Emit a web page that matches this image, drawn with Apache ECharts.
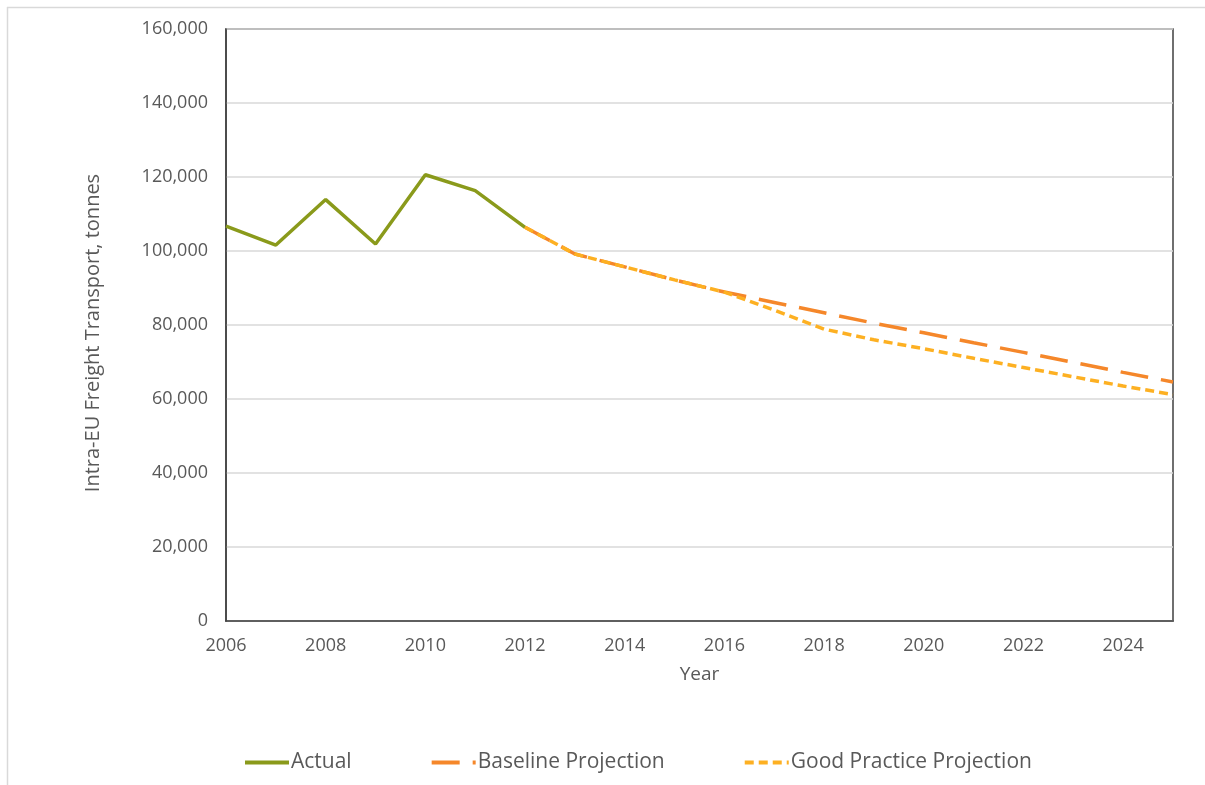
<!DOCTYPE html>
<html>
<head>
<meta charset="utf-8">
<script src="https://cdn.jsdelivr.net/npm/echarts@6/dist/echarts.min.js"></script>
<style>
  html, body { margin: 0; padding: 0; background: #fff; }
  #chart { width: 1205px; height: 785px; }
</style>
</head>
<body>
<div id="chart"></div>
<script>
// Intra-EU freight transport, tonnes per year
const actualYears = [2006, 2007, 2008, 2009, 2010, 2011, 2012];
const actualValues = [106700, 101600, 113900, 101900, 120600, 116300, 106400];

const projYears = [2012, 2013, 2014, 2015, 2016, 2017, 2018, 2019, 2020, 2021, 2022, 2023, 2024, 2025];
const baselineValues = [106400, 99200, 95700, 92200, 88900, 86100, 83300, 80500, 77900, 75200, 72600, 69900, 67200, 64600];
const goodPracticeValues = [106400, 99200, 95700, 92200, 88900, 84000, 78900, 76000, 73600, 71000, 68500, 66000, 63500, 61200];

const seriesNames = ['Actual', 'Baseline Projection', 'Good Practice Projection'];
const xAxisTitle = 'Year';
const yAxisTitle = 'Intra-EU Freight Transport, tonnes';

const pairs = (xs, ys) => xs.map((x, i) => [x, ys[i]]);

const FONT = '"Open Sans", "Liberation Sans", Arial, sans-serif';
const TEXT = '#595959';

const chart = echarts.init(document.getElementById('chart'), null, { renderer: 'canvas' });
chart.setOption({
  animation: false,
  textStyle: { fontFamily: FONT },
  graphic: [
    { type: 'line', shape: { x1: 7, y1: 7.5, x2: 1205, y2: 7.5 }, style: { stroke: '#d9d9d9', lineWidth: 1.5 } },
    { type: 'line', shape: { x1: 7.5, y1: 7, x2: 7.5, y2: 785 }, style: { stroke: '#d9d9d9', lineWidth: 1.5 } }
  ],
  grid: {
    left: 226, right: 32, top: 29, bottom: 164,
    show: true, borderColor: '#404040', borderWidth: 1.5, backgroundColor: 'transparent'
  },
  legend: {
    bottom: 12, left: 243, padding: 0,
    itemGap: 78, itemWidth: 44, itemHeight: 12,
    itemStyle: { opacity: 0 },
    lineStyle: { width: 4 },
    textStyle: { color: TEXT, fontSize: 21, fontFamily: FONT, padding: [0, 0, 0, -3] },
    data: seriesNames
  },
  xAxis: {
    type: 'value', min: 2006, max: 2025, interval: 2,
    name: xAxisTitle, nameLocation: 'middle', nameGap: 44,
    nameTextStyle: { color: TEXT, fontSize: 19, fontFamily: FONT },
    axisLine: { show: true, lineStyle: { color: '#404040', width: 1.5 } },
    axisTick: { show: false },
    splitLine: { show: false },
    axisLabel: {
      color: TEXT, fontSize: 18, margin: 16, fontFamily: FONT, showMaxLabel: false,
      formatter: v => (v % 2 === 0 ? String(v) : '')
    }
  },
  yAxis: {
    type: 'value', min: 0, max: 160000, interval: 20000,
    name: yAxisTitle, nameLocation: 'middle', nameGap: 123,
    nameTextStyle: { color: TEXT, fontSize: 20, fontFamily: FONT, padding: [0, 16, 0, 0] },
    axisLine: { show: true, lineStyle: { color: '#404040', width: 1.5 } },
    axisTick: { show: false },
    splitLine: { show: true, lineStyle: { color: '#d9d9d9', width: 1.5 } },
    axisLabel: {
      color: TEXT, fontSize: 18, margin: 18, fontFamily: FONT,
      formatter: v => v.toLocaleString('en-US')
    }
  },
  series: [
    {
      name: seriesNames[0], type: 'line', data: pairs(actualYears, actualValues),
      symbol: 'none', z: 3,
      lineStyle: { color: '#8A9A1B', width: 3.5 }, itemStyle: { color: '#8A9A1B' }
    },
    {
      name: seriesNames[1], type: 'line', data: pairs(projYears, baselineValues),
      symbol: 'none', z: 4,
      lineStyle: { color: '#F5872A', width: 3.5, type: [28, 13] }, itemStyle: { color: '#F5872A' }
    },
    {
      name: seriesNames[2], type: 'line', data: pairs(projYears, goodPracticeValues),
      symbol: 'none', z: 5,
      lineStyle: { color: '#FDB022', width: 3.5, type: [9, 5] }, itemStyle: { color: '#FDB022' }
    }
  ]
});
</script>
</body>
</html>
